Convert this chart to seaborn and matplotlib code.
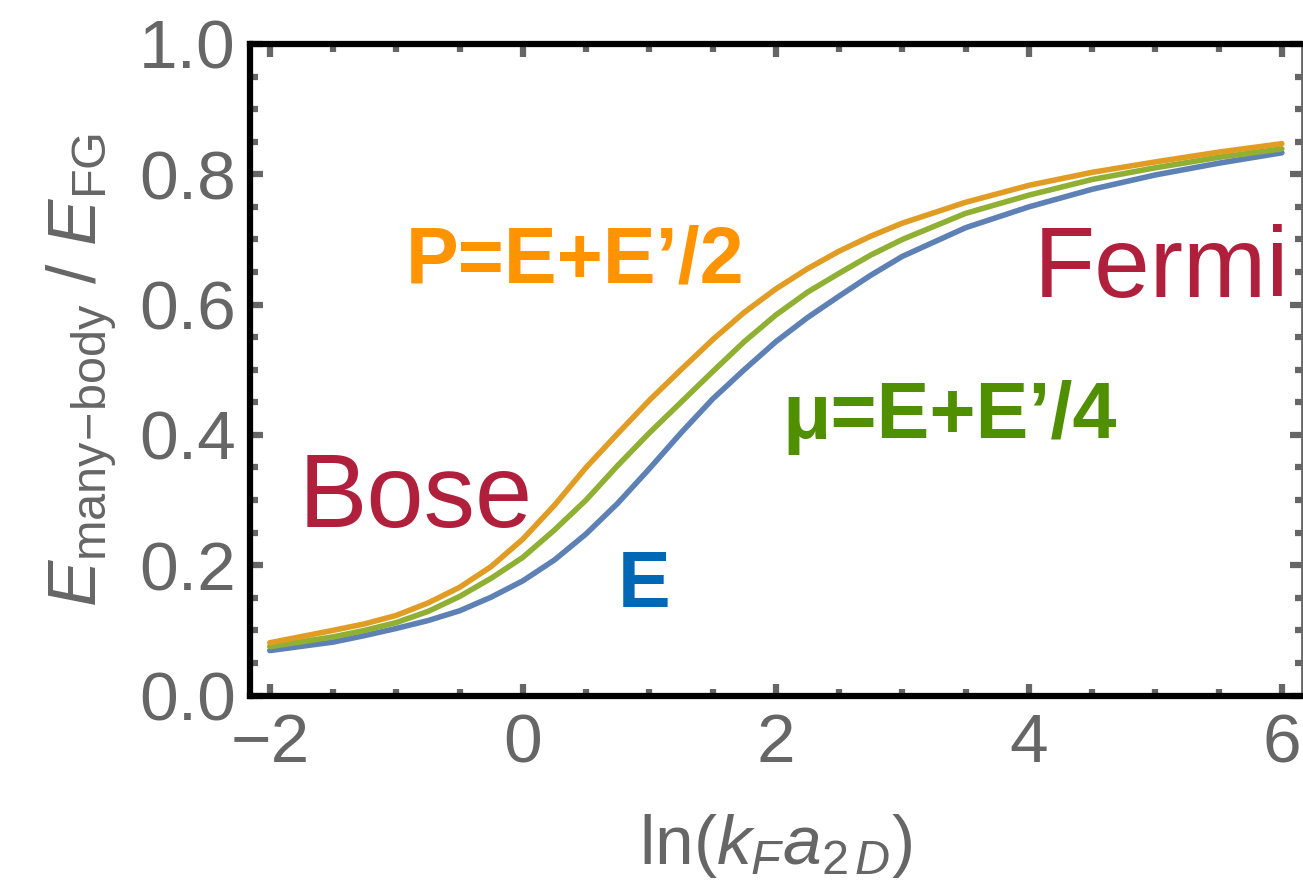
import numpy as np
import pandas as pd
import matplotlib
matplotlib.use("Agg")
import matplotlib.pyplot as plt
from matplotlib.ticker import MultipleLocator, FormatStrFormatter
import seaborn as sns

# ---- data ----
ln_kfa = [-2.0, -1.5, -1.25, -1.0, -0.75, -0.5, -0.25, 0.0, 0.25, 0.5, 0.75, 1.0, 1.25,
          1.5, 1.75, 2.0, 2.25, 2.5, 2.75, 3.0, 3.5, 4.0, 4.5, 5.0, 5.5, 6.0]
energy_E = [0.069, 0.082, 0.092, 0.103, 0.115, 0.130, 0.151, 0.176, 0.208, 0.248, 0.295, 0.348, 0.403,
            0.455, 0.500, 0.543, 0.580, 0.613, 0.645, 0.674, 0.718, 0.750, 0.777, 0.799, 0.817, 0.833]
chem_mu = [0.075, 0.090, 0.100, 0.112, 0.129, 0.152, 0.180, 0.212, 0.254, 0.300, 0.353, 0.403, 0.450,
           0.497, 0.543, 0.584, 0.619, 0.648, 0.676, 0.700, 0.740, 0.768, 0.792, 0.810, 0.826, 0.839]
press_P = [0.081, 0.100, 0.110, 0.123, 0.142, 0.166, 0.198, 0.240, 0.292, 0.350, 0.402, 0.453, 0.500,
           0.546, 0.588, 0.624, 0.655, 0.682, 0.705, 0.725, 0.757, 0.783, 0.803, 0.819, 0.834, 0.847]

series_names = ["E", "mu", "P"]
line_colors = ["#5E81B5", "#8FB032", "#E19C24"]

x_ticks = [-2, 0, 2, 4, 6]
y_ticks = [0.0, 0.2, 0.4, 0.6, 0.8, 1.0]

sns.set_theme(style="white")
plt.rcParams["font.family"] = ["Liberation Sans", "DejaVu Sans"]
plt.rcParams["mathtext.fontset"] = "custom"
plt.rcParams["mathtext.rm"] = "Liberation Sans"
plt.rcParams["mathtext.it"] = "Liberation Sans:italic"
plt.rcParams["mathtext.bf"] = "Liberation Sans:bold"

grey = "#666666"

fig = plt.figure(figsize=(13.03, 8.94), dpi=100)
ax = fig.add_axes([0.1915, 0.2220, 0.8078, 0.7288])

df = pd.DataFrame({
    "x": ln_kfa * 3,
    "y": energy_E + chem_mu + press_P,
    "s": [n for n in series_names for _ in ln_kfa],
})
sns.lineplot(data=df, x="x", y="y", hue="s", palette=dict(zip(series_names, line_colors)),
             linewidth=4.0, legend=False, ax=ax, sort=True)

ax.set_xlim(-2.16, 6.16)
ax.set_ylim(0.0, 1.0)
ax.set_xticks(x_ticks)
ax.set_yticks(y_ticks)
ax.xaxis.set_minor_locator(MultipleLocator(0.5))
ax.yaxis.set_minor_locator(MultipleLocator(0.05))
ax.yaxis.set_major_formatter(FormatStrFormatter("%.1f"))

ax.tick_params(which="both", direction="in", color=grey, top=True, right=True,
               bottom=True, left=True, labelsize=50, labelcolor=grey)
ax.tick_params(which="major", length=9, width=4.5)
ax.tick_params(which="minor", length=5.4, width=4.5)
ax.tick_params(axis="x", which="major", pad=12)
ax.tick_params(axis="y", which="major", pad=10)

for side in ["left", "top", "bottom"]:
    ax.spines[side].set_color("black")
    ax.spines[side].set_linewidth(4.5)
ax.spines["right"].set_color(grey)
ax.spines["right"].set_linewidth(2)

ax.set_xlabel(r"ln($k_Fa_{2\,D}$)", fontsize=50, color=grey, labelpad=26)
ax.set_ylabel(r"$E_{\mathrm{many\!-\!body}}$ / $E_{\mathrm{FG}}$", fontsize=50, color=grey, labelpad=14)

ax.text(0.41, 0.634, "P=E+E\u2019/2", color="#FF9300", fontsize=57, fontweight="bold",
        ha="center", va="baseline")
ax.text(3.37, 0.395, "\u03bc=E+E\u2019/4", color="#4F8F00", fontsize=57, fontweight="bold",
        ha="center", va="baseline")
ax.text(0.96, 0.136, "E", color="#0068B5", fontsize=57, fontweight="bold",
        ha="center", va="baseline")
ax.text(5.05, 0.611, "Fermi", color="#B0203C", fontsize=72, ha="center", va="baseline")
ax.text(-0.85, 0.259, "Bose", color="#B0203C", fontsize=74, ha="center", va="baseline")

fig.savefig("out.png", dpi=100)
